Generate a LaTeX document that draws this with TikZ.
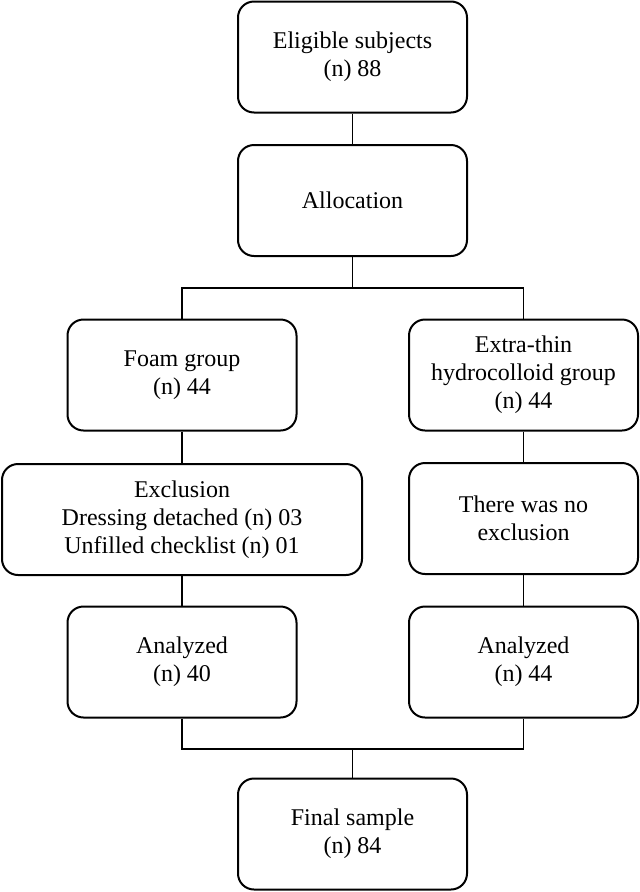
\documentclass[tikz,border=0pt]{standalone}
\usepackage{fontspec}
\setmainfont{Liberation Serif}
\begin{document}
\begin{tikzpicture}[x=1pt,y=-1pt,
  box/.style={draw, line width=2pt, rounded corners=16pt, align=center, inner sep=0pt,
    minimum width=229pt, minimum height=111pt, font=\fontsize{24}{28}\selectfont},
  conn/.style={line width=1.5pt}]
\useasboundingbox (0,0) rectangle (640,892);
\node[box] (elig) at (352.5,57) {Eligible subjects\\(n) 88};
\node[box] (alloc) at (352.5,200.5) {Allocation};
\node[box] (foam) at (182,375) {Foam group\\(n) 44};
\node[box] (extra) at (523.5,375) {Extra-thin\\hydrocolloid group\\(n) 44};
\node[box, minimum width=360pt] (excl) at (182,519.5) {Exclusion\\Dressing detached (n) 03\\Unfilled checklist (n) 01};
\node[box] (noexcl) at (523.5,518.5) {There was no\\exclusion};
\node[box] (anl) at (182,662) {Analyzed\\(n) 40};
\node[box] (anr) at (523.5,662) {Analyzed\\(n) 44};
\node[box] (final) at (352.5,834) {Final sample\\(n) 84};
\coordinate (split) at (352.5,288);
\coordinate (merge) at (352.5,749);
\draw[conn] (elig.south) -- (alloc.north);
\draw[conn] (alloc.south) -- (split);
\draw[conn] (foam.north) |- (split) -| (extra.north);
\draw[conn] (foam.south) -- (excl.north);
\draw[conn] (extra.south) -- (noexcl.north);
\draw[conn] (excl.south) -- (anl.north);
\draw[conn] (noexcl.south) -- (anr.north);
\draw[conn] (anl.south) |- (merge) -| (anr.south);
\draw[conn] (merge) -- (final.north);
\end{tikzpicture}
\end{document}
